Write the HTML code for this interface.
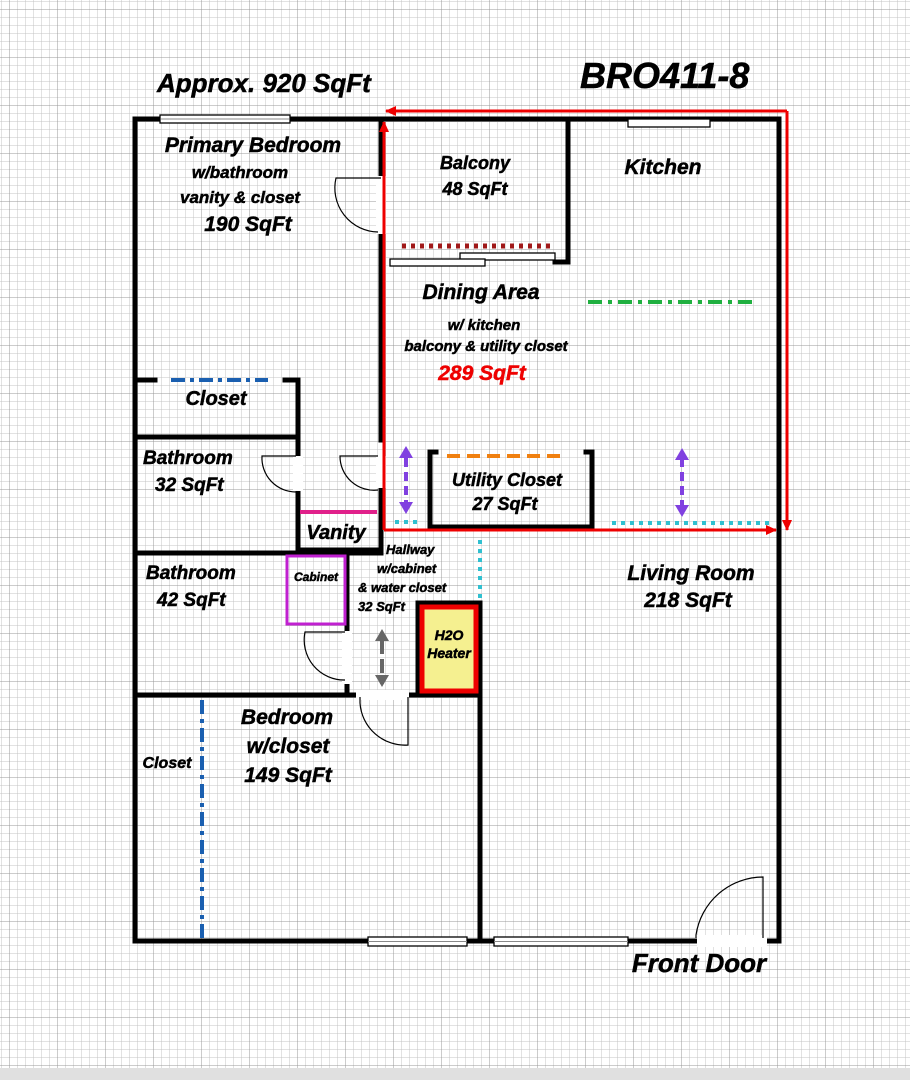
<!DOCTYPE html>
<html><head><style>
html,body{margin:0;padding:0;background:#fff}
svg{display:block}
text{font-family:"Liberation Sans",sans-serif;font-weight:bold;font-style:italic;fill:#000;stroke:#000;stroke-width:0.5}
</style></head><body>
<svg width="910" height="1080" viewBox="0 0 910 1080" xmlns="http://www.w3.org/2000/svg">
<defs>
<pattern id="mn" width="8" height="8" patternUnits="userSpaceOnUse" x="2" y="2">
<path d="M8 0V8M0 8H8" stroke="#c4c4c4" stroke-width="1" fill="none"/>
</pattern>
<pattern id="mj" width="48" height="48" patternUnits="userSpaceOnUse" x="10" y="10">
<path d="M48 0V48M0 48H48" stroke="#999" stroke-width="1" fill="none"/>
</pattern>
<marker id="ar" markerWidth="11" markerHeight="10" refX="10" refY="5" orient="auto" markerUnits="userSpaceOnUse"><path d="M0 0L11 5L0 10Z" fill="#e00"/></marker>
</defs>
<rect width="910" height="1080" fill="url(#mn)"/>
<rect width="910" height="1080" fill="url(#mj)"/>
<rect y="1068" width="910" height="12" fill="#e0e0e0"/>

<g stroke="#000" stroke-width="5" fill="none" stroke-linecap="square">
<path d="M135 119H381"/>
<path d="M381 119H779V941"/>
<path d="M135 119V941H779"/>
<path d="M381 119V175M381 235V258M381 258V440M381 488V550"/>
<path d="M568 122V262M555 262H568"/>
<path d="M135 380H155M285 380H298V437M135 437H298"/>
<path d="M298 437V455M298 492V515"/>
<path d="M298 515V550M298 550H381"/>
<path d="M135 553H381"/>
<path d="M347 553V630M347 685V695"/>
<path d="M135 695H355M410 695H480"/>
<path d="M480 603V941"/>
<path d="M430 452V527H592V452M430 452H436M592 452H586"/>
<path d="M418 603H480V695H418Z"/>
</g>
<g fill="#fff">
<rect x="376" y="176" width="10" height="58"/>
<rect x="293" y="456" width="10" height="35"/>
<rect x="376" y="456" width="10" height="32"/>
<rect x="342" y="631" width="10" height="53"/>
<rect x="356" y="690" width="53" height="10"/>
<rect x="697" y="935" width="70" height="12"/>
</g>
<g stroke="#000" stroke-width="1.2" fill="none">
<path d="M381 178H336A44 44 0 0 0 378 232"/>
<path d="M296 456H262A34 34 0 0 0 296 492"/>
<path d="M378 456H340A34 34 0 0 0 378 490"/>
<path d="M345 632H305A40 40 0 0 0 345 680"/>
<path d="M360 697V703A45 45 0 0 0 408 745V697"/>
<path d="M696 938V935A68 68 0 0 1 763 877V938"/>
</g>
<g fill="#fff" stroke="#000" stroke-width="1.3">
<rect x="160" y="115" width="130" height="8"/>
<rect x="628" y="119" width="82" height="8"/>
<rect x="460" y="253" width="95" height="7"/>
<rect x="390" y="259" width="95" height="7"/>
<rect x="368" y="937" width="99" height="9"/>
<rect x="494" y="937" width="134" height="9"/>
</g>
<g stroke="#888" stroke-width="1"><path d="M161 119H289M368 941.5H467M494 941.5H628"/></g>

<g stroke="#e00" stroke-width="3" fill="none">
<path d="M787 111V530" marker-end="url(#ar)"/>
<path d="M787 111H386" marker-end="url(#ar)"/>
<path d="M384 530V122" marker-end="url(#ar)"/>
<path d="M384 530H776" marker-end="url(#ar)"/>
</g>
<path d="M402 246H552" stroke="#a01818" stroke-width="5" stroke-dasharray="4,5"/>
<path d="M588 302H757" stroke="#20b040" stroke-width="4" stroke-dasharray="14,6,4,6"/>
<path d="M447 456H566" stroke="#f08010" stroke-width="4" stroke-dasharray="13,7"/>
<path d="M171 380H268" stroke="#1a5fb0" stroke-width="4" stroke-dasharray="14,5,4,5"/>
<path d="M202 700V940" stroke="#1a5fb0" stroke-width="4" stroke-dasharray="14,5,4,5"/>
<g stroke="#30c0d0" stroke-width="4" stroke-dasharray="4,5">
<path d="M395 522H420"/><path d="M612 523H770"/><path d="M480 540V598"/>
</g>
<path d="M300 512H377" stroke="#e0208a" stroke-width="4"/>
<path d="M287 556H345V624H287Z" stroke="#c020d0" stroke-width="3" fill="none"/>
<g fill="#8040e0" stroke="#8040e0" stroke-width="4">
<path d="M406 458V508" stroke-dasharray="9,5"/>
<path d="M399 458L406 446L413 458Z" stroke="none"/>
<path d="M399 502L406 514L413 502Z" stroke="none"/>
<path d="M682 458V512" stroke-dasharray="9,5"/>
<path d="M675 460L682 448L689 460Z" stroke="none"/>
<path d="M675 505L682 517L689 505Z" stroke="none"/>
</g>
<g fill="#666" stroke="#666" stroke-width="4">
<path d="M382 640V684" stroke-dasharray="14,5"/>
<path d="M375 641L382 629L389 641Z" stroke="none"/>
<path d="M375 675L382 687L389 675Z" stroke="none"/>
</g>
<rect x="422" y="607" width="54" height="84" fill="#f5f090" stroke="#e00" stroke-width="5"/>

<text x="157" y="92" font-size="26">Approx. 920 SqFt</text>
<text x="580" y="88" font-size="36">BRO411-8</text>
<g text-anchor="middle">
<text x="253" y="152" font-size="21">Primary  Bedroom</text>
<text x="240" y="178" font-size="17">w/bathroom</text>
<text x="240" y="203" font-size="17">vanity &amp; closet</text>
<text x="248" y="231" font-size="21">190 SqFt</text>
<text x="475" y="169" font-size="18">Balcony</text>
<text x="475" y="195" font-size="18">48 SqFt</text>
<text x="663" y="174" font-size="21">Kitchen</text>
<text x="481" y="299" font-size="21">Dining Area</text>
<text x="484" y="330" font-size="15">w/ kitchen</text>
<text x="486" y="351" font-size="15">balcony &amp; utility closet</text>
<text x="482" y="380" font-size="21" style="fill:#e00;stroke:#e00">289 SqFt</text>
<text x="216" y="405" font-size="20">Closet</text>
<text x="507" y="486" font-size="18">Utility Closet</text>
<text x="505" y="510" font-size="18">27 SqFt</text>
<text x="336" y="539" font-size="20">Vanity</text>
<text x="691" y="580" font-size="21">Living Room</text>
<text x="688" y="607" font-size="21">218 SqFt</text>
<text x="316" y="581" font-size="12">Cabinet</text>
<text x="449" y="640" font-size="14">H2O</text>
<text x="449" y="658" font-size="14">Heater</text>
<text x="287" y="724" font-size="21">Bedroom</text>
<text x="288" y="753" font-size="21">w/closet</text>
<text x="288" y="782" font-size="21">149 SqFt</text>
<text x="167" y="768" font-size="16">Closet</text>
<text x="699" y="972" font-size="26">Front Door</text>
</g>
<text x="143" y="464" font-size="19">Bathroom</text>
<text x="155" y="491" font-size="19">32 SqFt</text>
<text x="146" y="579" font-size="19">Bathroom</text>
<text x="157" y="606" font-size="19">42 SqFt</text>
<text x="386" y="554" font-size="13">Hallway</text>
<text x="377" y="573" font-size="13">w/cabinet</text>
<text x="358" y="592" font-size="13">&amp; water closet</text>
<text x="358" y="611" font-size="13">32 SqFt</text>
</svg>
</body></html>
